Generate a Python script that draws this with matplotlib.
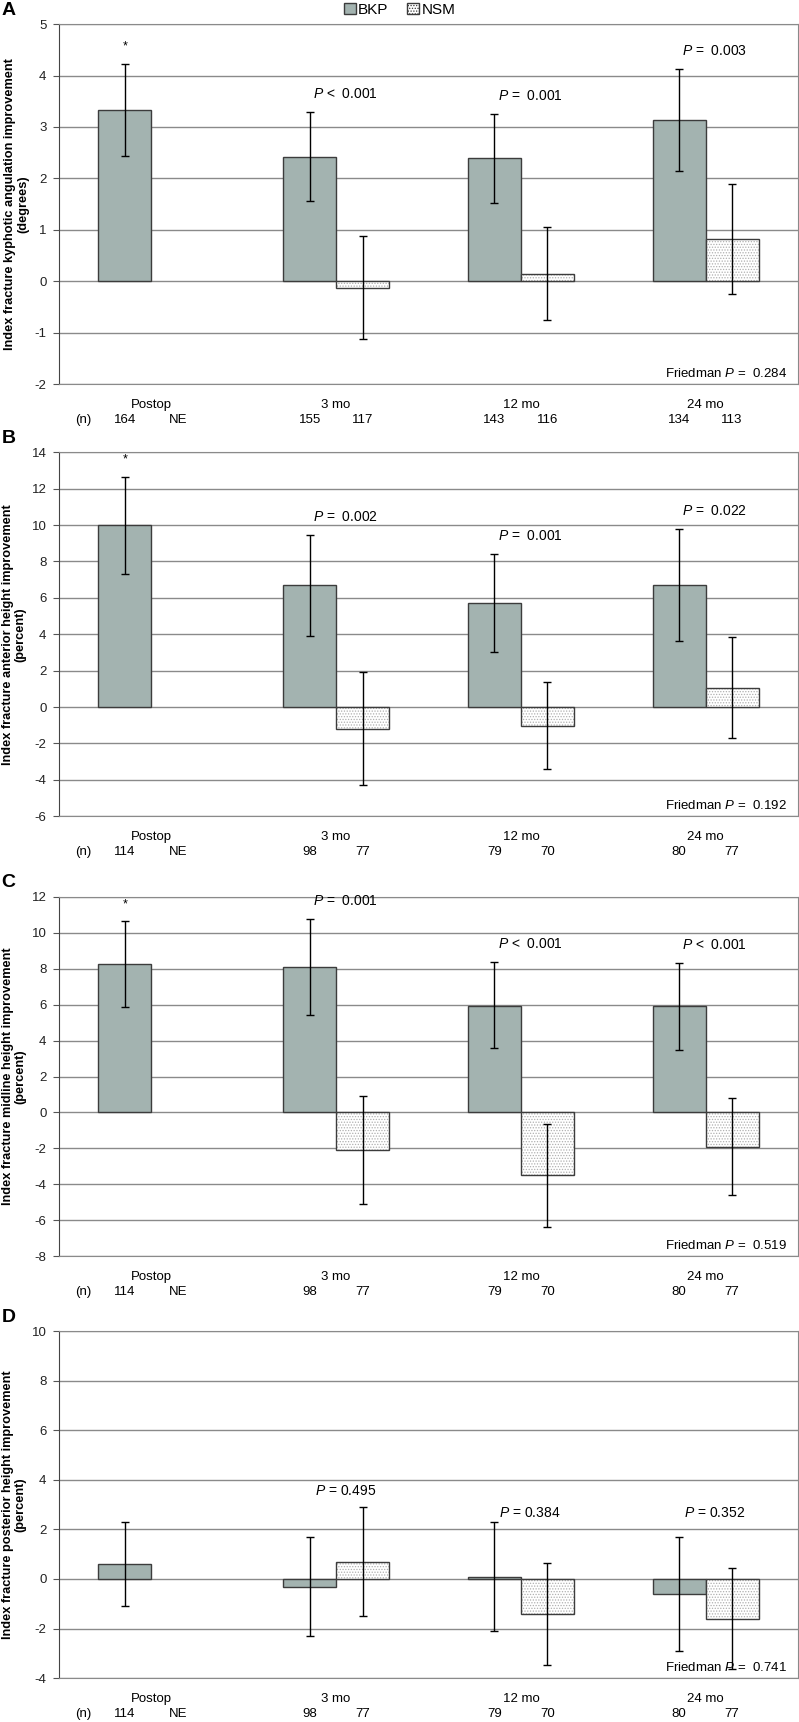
import numpy as np
import matplotlib
matplotlib.use("Agg")
import matplotlib.pyplot as plt
from matplotlib.patches import Patch
from matplotlib import font_manager

plt.rcParams["font.family"] = ["Liberation Sans", "DejaVu Sans"]
plt.rcParams["axes.unicode_minus"] = False
plt.rcParams["mathtext.fontset"] = "custom"
plt.rcParams["mathtext.rm"] = "Liberation Sans"
plt.rcParams["mathtext.it"] = "Liberation Sans:italic"
plt.rcParams["hatch.linewidth"] = 0.6

names = {f.name for f in font_manager.fontManager.ttflist}
NARROW = ["Liberation Sans Narrow"] if "Liberation Sans Narrow" in names else ["Liberation Sans"]
NARROW_SIZE = 10.5 if NARROW[0].endswith("Narrow") else 9.5

categories = ["Postop", "3 mo", "12 mo", "24 mo"]

# A: kyphotic angulation (degrees)
a_bkp = [3.33, 2.42, 2.39, 3.13]
a_bkp_lo = [2.44, 1.55, 1.53, 2.14]
a_bkp_hi = [4.23, 3.29, 3.25, 4.12]
a_nsm = [np.nan, -0.13, 0.14, 0.82]
a_nsm_lo = [np.nan, -1.13, -0.76, -0.24]
a_nsm_hi = [np.nan, 0.88, 1.05, 1.89]
a_p = ["*", "$P$ <  0.001", "$P$ =  0.001", "$P$ =  0.003"]
a_n_bkp = ["164", "155", "143", "134"]
a_n_nsm = ["NE", "117", "116", "113"]
a_friedman = "0.284"

# B: anterior height (percent)
b_bkp = [10.0, 6.7, 5.7, 6.7]
b_bkp_lo = [7.3, 3.9, 3.0, 3.6]
b_bkp_hi = [12.65, 9.45, 8.4, 9.8]
b_nsm = [np.nan, -1.22, -1.03, 1.05]
b_nsm_lo = [np.nan, -4.28, -3.39, -1.68]
b_nsm_hi = [np.nan, 1.9, 1.4, 3.85]
b_p = ["*", "$P$ =  0.002", "$P$ =  0.001", "$P$ =  0.022"]
b_n_bkp = ["114", "98", "79", "80"]
b_n_nsm = ["NE", "77", "70", "77"]
b_friedman = "0.192"

# C: midline height (percent)
c_bkp = [8.25, 8.1, 5.95, 5.9]
c_bkp_lo = [5.85, 5.45, 3.6, 3.5]
c_bkp_hi = [10.65, 10.75, 8.4, 8.3]
c_nsm = [np.nan, -2.09, -3.5, -1.91]
c_nsm_lo = [np.nan, -5.1, -6.4, -4.6]
c_nsm_hi = [np.nan, 0.91, -0.63, 0.8]
c_p = ["*", "$P$ =  0.001", "$P$ <  0.001", "$P$ <  0.001"]
c_n_bkp = ["114", "98", "79", "80"]
c_n_nsm = ["NE", "77", "70", "77"]
c_friedman = "0.519"

# D: posterior height (percent)
d_bkp = [0.6, -0.31, 0.08, -0.61]
d_bkp_lo = [-1.1, -2.32, -2.11, -2.9]
d_bkp_hi = [2.3, 1.7, 2.3, 1.7]
d_nsm = [np.nan, 0.7, -1.43, -1.62]
d_nsm_lo = [np.nan, -1.51, -3.47, -3.65]
d_nsm_hi = [np.nan, 2.9, 0.65, 0.45]
d_p = ["", "$P$ = 0.495", "$P$ = 0.384", "$P$ = 0.352"]
d_n_bkp = ["114", "98", "79", "80"]
d_n_nsm = ["NE", "77", "70", "77"]
d_friedman = "0.741"

BKP_COLOR = "#a3b3b0"
EDGE = "#3c3c3c"

fig = plt.figure(figsize=(7.99, 17.22), dpi=100)

# label heights for panel D were placed by hand in the original
d_label_y = [None, 3.55, 2.65, 2.65]

panels = [
    ("A", [0.0738, 0.777, 0.925, 0.209], (-2, 5), 1,
     "Index fracture kyphotic angulation improvement\n(degrees)",
     a_bkp, a_bkp_lo, a_bkp_hi, a_nsm, a_nsm_lo, a_nsm_hi, a_p, a_n_bkp, a_n_nsm, a_friedman, None),
    ("B", [0.0738, 0.526, 0.925, 0.2114], (-6, 14), 2,
     "Index fracture anterior height improvement\n(percent)",
     b_bkp, b_bkp_lo, b_bkp_hi, b_nsm, b_nsm_lo, b_nsm_hi, b_p, b_n_bkp, b_n_nsm, b_friedman, None),
    ("C", [0.0738, 0.2706, 0.925, 0.2085], (-8, 12), 2,
     "Index fracture midline height improvement\n(percent)",
     c_bkp, c_bkp_lo, c_bkp_hi, c_nsm, c_nsm_lo, c_nsm_hi, c_p, c_n_bkp, c_n_nsm, c_friedman, None),
    ("D", [0.0738, 0.0255, 0.925, 0.2015], (-4, 10), 2,
     "Index fracture posterior height improvement\n(percent)",
     d_bkp, d_bkp_lo, d_bkp_hi, d_nsm, d_nsm_lo, d_nsm_hi, d_p, d_n_bkp, d_n_nsm, d_friedman,
     d_label_y),
]

x = np.arange(len(categories))
w = 0.2865

for (letter, rect, ylim, step, ylabel, bkp, bkp_lo, bkp_hi,
     nsm, nsm_lo, nsm_hi, ptxt, n_bkp, n_nsm, fried, label_y) in panels:
    ax = fig.add_axes(rect)
    bkp = np.array(bkp); bkp_lo = np.array(bkp_lo); bkp_hi = np.array(bkp_hi)
    nsm = np.array(nsm); nsm_lo = np.array(nsm_lo); nsm_hi = np.array(nsm_hi)
    xb = x - w / 2
    xn = x + w / 2
    ok = ~np.isnan(nsm)

    ax.bar(xb, bkp, w, color=BKP_COLOR, edgecolor=EDGE, linewidth=1.0, zorder=3)
    ax.bar(xn[ok], nsm[ok], w, color="white", edgecolor="#b0b0b0", hatch="......",
           linewidth=0, zorder=3)
    ax.bar(xn[ok], nsm[ok], w, fill=False, edgecolor=EDGE, linewidth=1.0, zorder=4)

    ax.errorbar(xb, bkp, yerr=[bkp - bkp_lo, bkp_hi - bkp], fmt="none", ecolor="black",
                elinewidth=1, capsize=3, capthick=1, zorder=5)
    ax.errorbar(xn[ok], nsm[ok], yerr=[nsm[ok] - nsm_lo[ok], nsm_hi[ok] - nsm[ok]],
                fmt="none", ecolor="black", elinewidth=1, capsize=3, capthick=1, zorder=5)

    ax.set_xlim(-0.5, len(categories) - 0.5)
    ax.set_ylim(*ylim)
    ax.set_yticks(np.arange(ylim[0], ylim[1] + step, step))
    ax.yaxis.grid(True, color="#8a8a8a", linewidth=1)
    ax.set_axisbelow(True)
    ax.set_xticks([])
    ax.tick_params(axis="y", direction="out", length=4, color="#555555",
                   labelsize=9.5, labelcolor="#222222", pad=5)
    for s in ["top", "right", "bottom"]:
        ax.spines[s].set_color("#8a8a8a")
    ax.spines["left"].set_color("#444444")
    ax.set_ylabel(ylabel, fontweight="bold", fontsize=9.2, labelpad=4, linespacing=1.05)

    # significance labels
    for i, t in enumerate(ptxt):
        if not t:
            continue
        if t == "*":
            ax.annotate(t, (xb[i], bkp_hi[i]), xytext=(0, 8), textcoords="offset points",
                        ha="center", va="bottom", fontsize=9)
        elif label_y is not None and label_y[i] is not None:
            ax.text(x[i] + 0.05, label_y[i], t, ha="center", va="center", fontsize=10)
        else:
            top = np.nanmax([bkp_hi[i], nsm_hi[i]])
            ax.annotate(t, (x[i] + 0.05, top), xytext=(0, 13), textcoords="offset points",
                        ha="center", va="center", fontsize=10)

    ax.text(0.985, 0.012, "Friedman $P$ =  " + fried, transform=ax.transAxes,
            ha="right", va="bottom", fontsize=NARROW_SIZE, family=NARROW)

    # category labels and sample sizes under the axis
    for i, c in enumerate(categories):
        ax.annotate(c, (x[i], 0), xycoords=("data", "axes fraction"), xytext=(0, -15),
                    textcoords="offset points", ha="center", va="center",
                    fontsize=NARROW_SIZE, family=NARROW)
        ax.annotate(n_bkp[i], (xb[i], 0), xycoords=("data", "axes fraction"),
                    xytext=(0, -26), textcoords="offset points", ha="center", va="center",
                    fontsize=NARROW_SIZE, family=NARROW)
        ax.annotate(n_nsm[i], (xn[i], 0), xycoords=("data", "axes fraction"),
                    xytext=(0, -26), textcoords="offset points", ha="center", va="center",
                    fontsize=NARROW_SIZE, family=NARROW)
    ax.annotate("(n)", (-0.37, 0), xycoords=("data", "axes fraction"), xytext=(0, -26),
                textcoords="offset points", ha="center", va="center",
                fontsize=NARROW_SIZE, family=NARROW)

    top_px = 1722 * (1 - rect[1] - rect[3])
    fig.text(0.002, 1 - (top_px - 14) / 1722, letter, fontweight="bold", fontsize=14,
             ha="left", va="center")

handles = [Patch(facecolor=BKP_COLOR, edgecolor=EDGE, linewidth=1.0),
           Patch(facecolor="white", edgecolor=EDGE, hatch="......", linewidth=1.0)]
fig.legend(handles, ["BKP", "NSM"], loc="upper center", bbox_to_anchor=(0.5, 1.002),
           ncol=2, frameon=False, fontsize=11, handlelength=0.8, handleheight=0.8,
           handletextpad=0.15, columnspacing=1.2, borderaxespad=0)

fig.savefig("out.png", dpi=100)
